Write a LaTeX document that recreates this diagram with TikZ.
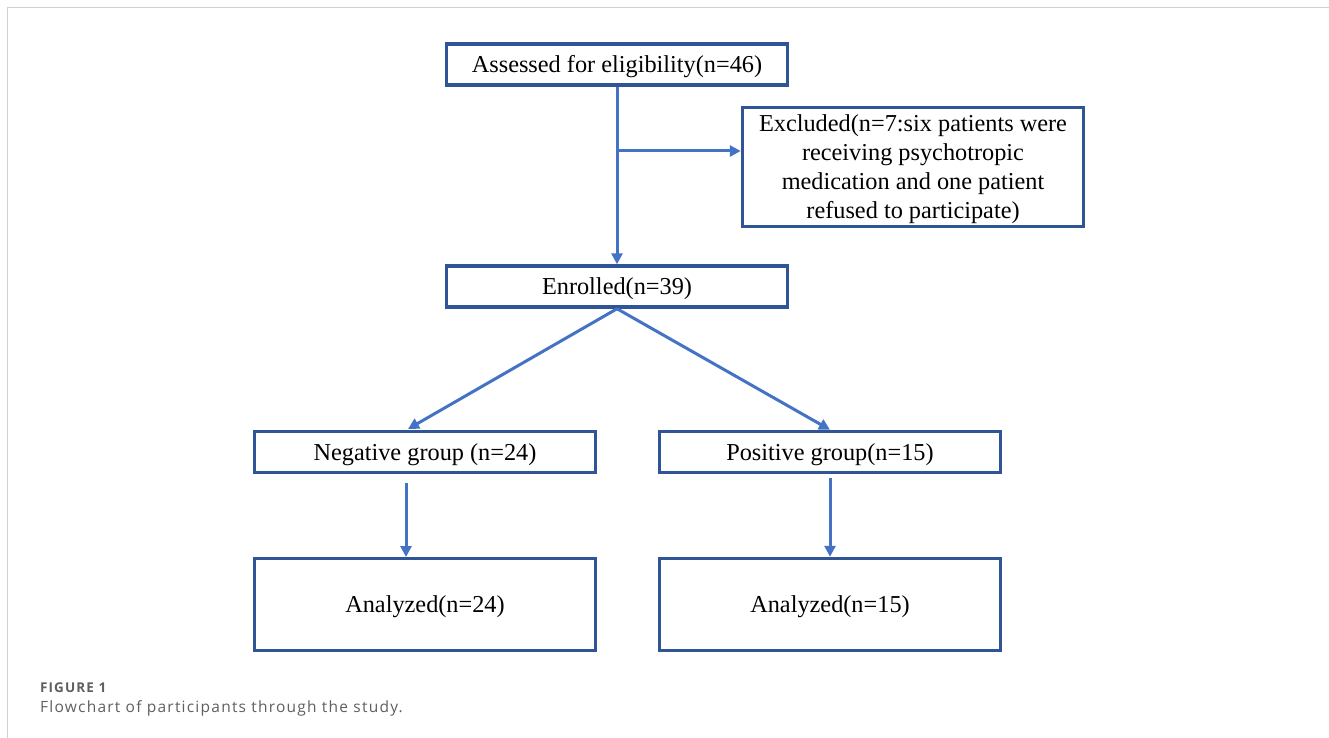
\documentclass[tikz,border=0pt]{standalone}
\usepackage{fontspec}
\setmainfont{Liberation Serif}
\newfontfamily\capfont[LetterSpace=8]{Open Sans}
\usetikzlibrary{arrows.meta}
\definecolor{boxblue}{RGB}{47,85,151}
\definecolor{arrowblue}{RGB}{68,114,196}
\definecolor{framegray}{RGB}{208,208,208}
\definecolor{capgray}{RGB}{95,95,95}
\tikzset{
  flowbox/.style={draw=boxblue, line width=3.5pt, minimum width=341pt, minimum height=41pt, inner sep=0pt, align=center, text height=16.5pt, text depth=0pt, font=\fontsize{24.3}{29}\selectfont},
  flowarrow/.style={draw=arrowblue, line width=3pt, -{Triangle[length=11pt,width=11pt]}},
}
\begin{document}
\begin{tikzpicture}[x=1pt,y=1pt,yscale=-1,xscale=1]
	\useasboundingbox (0,0) rectangle (1329,738);
	
	%Frame
	\draw [framegray, line width=1.5pt] (7.5,738) -- (7.5,7.5) -- (1329,7.5);
	
	%Boxes
	\node [flowbox] (assess) at (617,64.5) {Assessed for eligibility(n=46)};
	\node [flowbox, minimum height=119pt, text height=103.5pt] (excl) at (913,167) {Excluded(n=7:six patients were\\receiving psychotropic\\medication and one patient\\refused to participate)};
	\node [flowbox] (enrol) at (617,286.5) {Enrolled(n=39)};
	\node [flowbox] (neg) at (425,452) {Negative group (n=24)};
	\node [flowbox] (pos) at (830,452) {Positive group(n=15)};
	\node [flowbox, minimum height=92pt] (ananeg) at (425,604.5) {Analyzed(n=24)};
	\node [flowbox, minimum height=92pt] (anapos) at (830,604.5) {Analyzed(n=15)};
	
	%Helper points
	\coordinate (split) at (617,151);
	\coordinate (negin) at (408,429);
	\coordinate (negout) at (406,483);
	\coordinate (negend) at (406,557);
	\coordinate (posout) at (830,478);
	
	%Arrows
	\draw [flowarrow] (assess.south) -- (enrol.north);
	\draw [flowarrow] (split) -- (excl.west |- split);
	\draw [flowarrow] (enrol.south) -- (negin);
	\draw [flowarrow] (enrol.south) -- (pos.north);
	\draw [flowarrow] (negout) -- (negend);
	\draw [flowarrow] (posout) -- (anapos.north);
	
	%Caption
	\node [anchor=base west, inner sep=0pt, text=capgray, font=\capfont\bfseries\fontsize{13.5}{15}\selectfont] (capa) at (40,692) {FIGURE 1};
	\node [anchor=base west, inner sep=0pt, text=capgray, font=\capfont\fontsize{15.5}{18}\selectfont] (capb) at (40,712) {Flowchart of participants through the study.};
\end{tikzpicture}
\end{document}
